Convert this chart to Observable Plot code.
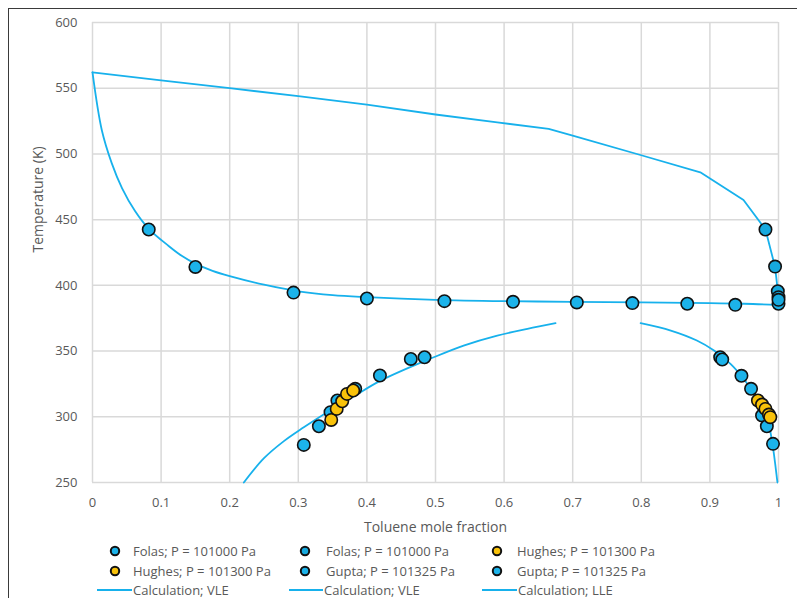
<!DOCTYPE html>
<html><head><meta charset="utf-8">
<script src="https://cdn.jsdelivr.net/npm/d3@7"></script>
<script src="https://cdn.jsdelivr.net/npm/@observablehq/plot@0.6"></script>
<style>
body{margin:0;background:#fff;font-family:"Open Sans",sans-serif;}
#wrap{position:relative;width:797px;height:598px;overflow:hidden;background:#fff;}
#frame{position:absolute;left:8px;top:8px;width:830px;height:630px;border:1.5px solid #3a3a3a;box-sizing:border-box;pointer-events:none;}
#chart{position:absolute;left:0;top:0;}
#legend{position:absolute;left:0;top:540px;width:797px;height:58px;}
.item{position:absolute;display:flex;align-items:center;font-size:13px;line-height:14px;color:#595959;white-space:nowrap;height:14px;}
.item svg{display:block;flex:none;}
</style></head><body>
<div id="wrap"><div id="chart"></div><div id="legend"></div><div id="frame"></div></div>
<script>
// ---- tick labels ----
const xTicks = [0,0.1,0.2,0.3,0.4,0.5,0.6,0.7,0.8,0.9,1];
const xTickLabels = ["0","0.1","0.2","0.3","0.4","0.5","0.6","0.7","0.8","0.9","1"];
const yTicks = [250,300,350,400,450,500,550,600];

// ---- Folas (VLE) ----
const folas1X = [0.082,0.15,0.293,0.4,0.513,0.613,0.706,0.787,0.867,0.937,1.0];
const folas1T = [442.5,414,394.5,390,388,387.5,387,386.5,386,385.2,386];
const folas2X = [0.981,0.995,0.999,1.0,1.0];
const folas2T = [442.5,414.3,395.5,391,389];

// ---- Hughes (LLE) ----
const hughes1X = [0.348,0.356,0.364,0.371,0.38];
const hughes1T = [297.6,306,311.8,317.4,320];
const hughes2X = [0.97,0.976,0.981,0.986,0.988];
const hughes2T = [312.4,309.3,306,301.7,299.7];

// ---- Gupta (LLE) ----
const gupta1X = [0.308,0.33,0.347,0.357,0.383,0.419,0.464,0.484];
const gupta1T = [278.6,292.8,303.5,312.4,321.3,331.4,344,345.3];
const gupta2X = [0.915,0.918,0.946,0.96,0.976,0.983,0.992];
const gupta2T = [345.3,343.6,331.2,321.3,301,292.8,279.4];

// ---- Calculation; VLE ----
const vleDewX = [0,0.1,0.2,0.3,0.4,0.5,0.59,0.665,0.7,0.8,0.886,0.949,0.981,0.995,0.999,1.0];
const vleDewT = [562,556,550,544,537.5,530,524,519,514,499,486,465,442.5,414,395.5,386];
const vleBubX = [0,0.0136,0.028,0.043,0.062,0.082,0.111,0.13,0.15,0.175,0.2,0.25,0.3,0.35,0.4,0.5,0.6,0.7,0.8,0.9,0.95,1.0];
const vleBubT = [562,518,493,474,456.5,443,430,422.5,416.5,411,407,400.5,395.5,392.5,391,389,388,387.5,387,386.5,386,385];

// ---- Calculation; LLE ----
const lleLeftX = [0.2206,0.25,0.279,0.308,0.33,0.352,0.38,0.42,0.4975,0.541,0.59,0.634,0.675];
const lleLeftT = [250,268.5,281.5,292,299.5,306.5,315.2,327.5,345.3,354.2,361.8,366.9,371.2];
const lleRightX = [0.799,0.843,0.881,0.906,0.93,0.946,0.96,0.97,0.978,0.985,0.991,0.995,0.998,0.9985];
const lleRightT = [371.2,365.6,358,350.4,340.3,331,321,313,305,296,280,265,252,250];

const legendLabels = ["Folas; P = 101000 Pa","Folas; P = 101000 Pa","Hughes; P = 101300 Pa",
  "Hughes; P = 101300 Pa","Gupta; P = 101325 Pa","Gupta; P = 101325 Pa",
  "Calculation; VLE","Calculation; VLE","Calculation; LLE"];

const BLUE = "#1cb3ea", BLUE2 = "#16a9de", YELLOW = "#f9c20a", LINE = "#17b1ec";

const pts = (xs, ts) => xs.map((x,i) => ({x, t: ts[i]}));
const lineOpts = (curve) => ({x:"x", y:"t", stroke: LINE, strokeWidth: 1.8, curve});
const dotOpts = (fill) => ({x:"x", y:"t", r:6.2, fill, stroke:"#111", strokeWidth:1.6});

const chart = Plot.plot({
  width: 797, height: 540,
  marginLeft: 92, marginRight: 19, marginTop: 22, marginBottom: 58,
  style: {fontFamily: "'Open Sans', sans-serif", fontSize: "13px", color: "#595959", background: "transparent"},
  x: {domain: [0,1]},
  y: {domain: [250,600]},
  marks: [
    Plot.gridX(xTicks, {stroke: "#d9d9d9", strokeOpacity: 1, strokeWidth: 1.5}),
    Plot.gridY(yTicks, {stroke: "#d9d9d9", strokeOpacity: 1, strokeWidth: 1.5}),
    Plot.axisX({ticks: xTicks, tickSize: 0, tickPadding: 15, label: null,
      tickFormat: d => xTickLabels[xTicks.indexOf(d)], fill: "#595959"}),
    Plot.axisY({ticks: yTicks, tickSize: 0, tickPadding: 15, label: null, fill: "#595959"}),
    Plot.text(["Toluene mole fraction"], {frameAnchor: "bottom", dy: 49, fontSize: 14, fill: "#595959"}),
    Plot.text(["Temperature (K)"], {frameAnchor: "left", dx: -54, rotate: -90, fontSize: 14, fill: "#595959"}),
    Plot.line(pts(vleDewX, vleDewT), lineOpts("linear")),
    Plot.line(pts(vleBubX, vleBubT), lineOpts("catmull-rom")),
    Plot.line(pts(lleLeftX, lleLeftT), lineOpts("catmull-rom")),
    Plot.line(pts(lleRightX, lleRightT), lineOpts("catmull-rom")),
    Plot.dot(pts(gupta1X, gupta1T), dotOpts(BLUE)),
    Plot.dot(pts(gupta2X, gupta2T), dotOpts(BLUE)),
    Plot.dot(pts(folas1X, folas1T), dotOpts(BLUE)),
    Plot.dot(pts(folas2X, folas2T), dotOpts(BLUE2)),
    Plot.dot(pts(hughes1X, hughes1T), dotOpts(YELLOW)),
    Plot.dot(pts(hughes2X, hughes2T), dotOpts(YELLOW))
  ]
});
document.getElementById("chart").appendChild(chart);

// ---- legend (HTML) ----
const legendKinds = [["dot",BLUE],["dot",BLUE2],["dot",YELLOW],["dot",YELLOW],["dot",BLUE],["dot",BLUE],["line",LINE],["line",LINE],["line",LINE]];
const colMarkerX = [115,305,497];
const colTextX = [133,326,517];
const colLineX = [[97,132],[289,323],[482,517]];
const rowTop = [4,24,43];
const legend = document.getElementById("legend");
legendLabels.forEach((lab, i) => {
  const r = Math.floor(i/3), c = i % 3;
  const [kind, color] = legendKinds[i];
  const div = document.createElement("div");
  div.className = "item";
  div.style.top = rowTop[r] + "px";
  let svg, left, gap;
  if (kind === "dot") {
    left = colMarkerX[c] - 6;
    svg = `<svg width="12" height="12"><circle cx="6" cy="6" r="4.2" fill="${color}" stroke="#111" stroke-width="2"/></svg>`;
    gap = colTextX[c] - (colMarkerX[c] + 6);
  } else {
    const [a,b] = colLineX[c];
    left = a;
    svg = `<svg width="${b-a}" height="12"><line x1="0" x2="${b-a}" y1="6" y2="6" stroke="${color}" stroke-width="1.8"/></svg>`;
    gap = 1;
  }
  div.style.left = left + "px";
  div.innerHTML = svg + `<span style="margin-left:${gap}px">${lab}</span>`;
  legend.appendChild(div);
});
</script>
</body></html>
